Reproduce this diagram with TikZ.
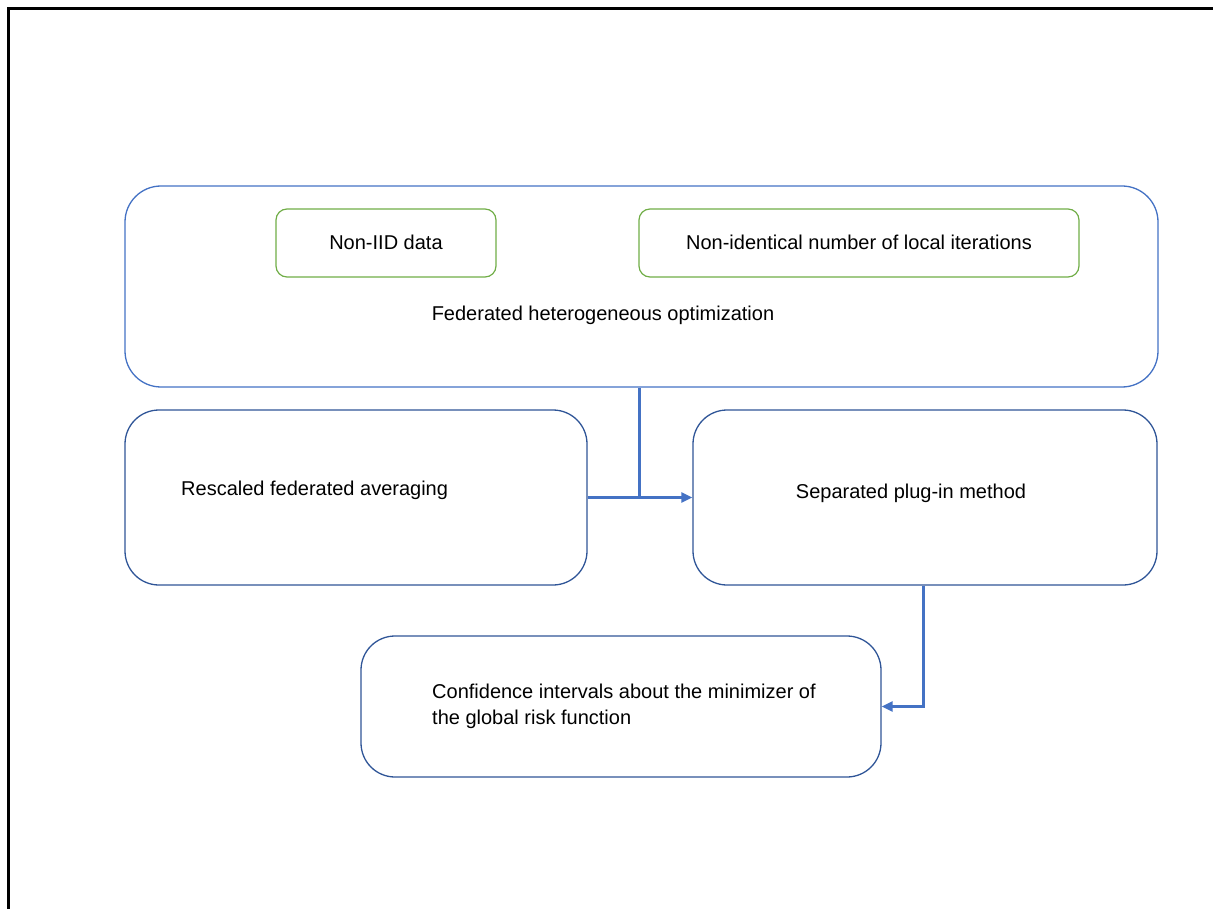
\documentclass[tikz,border=0pt]{standalone}
\usepackage{fontspec}
\setmainfont{Liberation Sans}
\usetikzlibrary{arrows.meta}
\definecolor{outerblue}{HTML}{4472C4}
\definecolor{boxblue}{HTML}{2F5597}
\definecolor{boxgreen}{HTML}{70AD47}
\begin{document}
\begin{tikzpicture}[x=1pt,y=-1pt,
  txt/.style={font=\fontsize{20}{25.5}\selectfont, inner sep=0pt},
  bigbox/.style={draw=outerblue, line width=1.3pt, rounded corners=36pt},
  lowbox/.style={draw=boxblue, line width=1.3pt, rounded corners=34pt},
  tagbox/.style={draw=boxgreen, line width=1.2pt, rounded corners=11pt},
  conn/.style={draw=outerblue, line width=3pt, -{Triangle[length=11pt,width=10pt]}},
  connplain/.style={draw=outerblue, line width=3pt}]
\useasboundingbox (0,0) rectangle (1213,909);
\draw[line width=3pt] (8,912) -- (8,9) -- (1216,9);
% boxes
\node[bigbox, minimum width=1033pt, minimum height=201pt] (big) at (641.5,286.5) {};
\node[tagbox, minimum width=220pt, minimum height=68pt] (iid) at (386,243) {};
\node[txt] at ([yshift=1pt]iid.center) {Non-IID data};
\node[tagbox, minimum width=440pt, minimum height=68pt] (iter) at (859,243) {};
\node[txt] at ([yshift=1pt]iter.center) {Non-identical number of local iterations};
\node[txt] (fedlab) at (603,315) {Federated heterogeneous optimization};
\node[lowbox, minimum width=462pt, minimum height=175pt] (resc) at (356,497.5) {};
\node[txt, anchor=west] at (181,490) {Rescaled federated averaging};
\node[lowbox, minimum width=464pt, minimum height=175pt] (sep) at (925,497.5) {};
\node[txt] at (911,493) {Separated plug-in method};
\node[lowbox, minimum width=520pt, minimum height=141pt] (conf) at (621,706.5) {};
\node[txt, anchor=north west, align=left] at (432,684) {Confidence intervals about the minimizer of\\the global risk function};
% connectors
\coordinate (top) at ([xshift=-2.5pt]big.south);
\coordinate (join) at (top |- resc.east);
\coordinate (down) at ([xshift=-2pt]sep.south);
\draw[connplain] (top) -- (join);
\draw[conn] (resc.east) -- (sep.west);
\draw[conn] (down) |- (conf.east);
\end{tikzpicture}
\end{document}
